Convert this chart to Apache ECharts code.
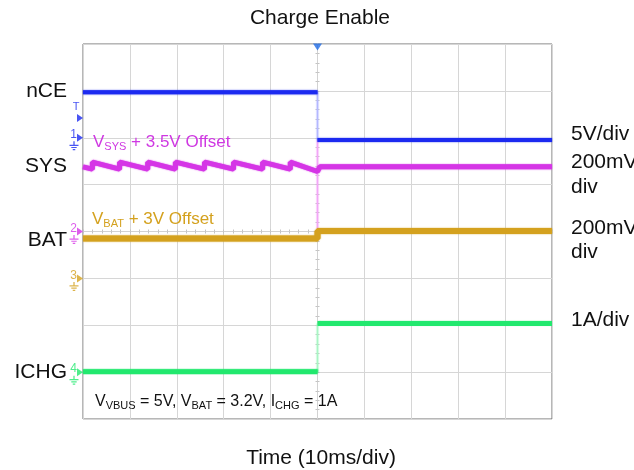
<!DOCTYPE html>
<html><head><meta charset="utf-8">
<script src="https://cdn.jsdelivr.net/npm/echarts@6/dist/echarts.min.js"></script>
<style>html,body{margin:0;padding:0;background:#fff}#c{width:634px;height:470px}</style>
</head><body><div id="c"></div>
<script>
// ---- data (time in ms relative to trigger, amplitude in screen divisions from centre) ----
const timeRange = [-50, 50];
const divRange = [-4, 4];
const edgeTime = 0;
const nceLevels = [2.97, 1.95];      // before / after enable
const batLevels = [-0.15, 0.01];
const ichgLevels = [-2.99, -1.96];
const sysTime  = [-50, -48.0, -48.0, -42.2, -42.2, -36.2, -36.2, -30.3, -30.3, -24.1, -24.1, -17.9, -17.9, -11.7, -11.7, -5.8, -5.8, 0, 0.5, 50];
const sysValue = [1.38, 1.33, 1.48, 1.33, 1.48, 1.33, 1.48, 1.33, 1.48, 1.33, 1.48, 1.33, 1.48, 1.33, 1.48, 1.33, 1.48, 1.28, 1.38, 1.38];
const sysGlitch = [1.95, 0.0];
const channelNames = ['1', '2', '3', '4'];
const channelGround = [2.0, 0.0, -1.0, -3.0];
const triggerLevel = 2.42;
const leftLabels = ['nCE', 'SYS', 'BAT', 'ICHG'];
const rightLabels = ['5V/div', '200mV/', 'div', '200mV/', 'div', '1A/div'];

const FONT = '"Liberation Sans", Arial, sans-serif';
const C = { nce: '#1c2af0', sys: '#d535e6', bat: '#d4a11e', ichg: '#22e86e', trig: '#1f6be6' };
const chColors = [C.nce, C.sys, C.bat, C.ichg];

const chart = echarts.init(document.getElementById('c'), null, { renderer: 'canvas' });

function seg(a, b, v) { return [[a, v], [b, v]]; }
function trace(name, data, color, width, z) {
  return { name, type: 'line', data, symbol: 'none', animation: false, z: z || 3,
    lineStyle: { color, width, cap: 'butt', join: 'bevel', shadowColor: color, shadowBlur: 1.5 } };
}
const sysData = sysTime.map((t, i) => [t, sysValue[i]]);
const groundPath = 'path://M4.3,0h1.4v4h-1.4z M0,4h10v1.4h-10z M2,6.5h6v1.4h-6z M3.6,9h2.8v1.4h-2.8z';

const axisCommon = {
  type: 'value', axisLabel: { show: false },
  axisLine: { onZero: true, lineStyle: { color: '#d2d2d2', width: 1 } },
  axisTick: { show: true, length: 2, lineStyle: { color: '#c4c4c4' } },
  minorTick: { show: true, splitNumber: 5, length: 2, lineStyle: { color: '#c4c4c4' } }
};

const option = {
  backgroundColor: '#fff',
  animation: false,
  grid: { left: 83, top: 44, width: 469, height: 375, show: true, borderColor: '#6e6e6e', borderWidth: 1, containLabel: false },
  xAxis: [
    Object.assign({}, axisCommon, { min: timeRange[0], max: timeRange[1], interval: 10,
      axisTick: Object.assign({}, axisCommon.axisTick, { inside: true }),
      splitLine: { show: true, lineStyle: { color: '#d6d6d6', width: 1 } } }),
    Object.assign({}, axisCommon, { min: timeRange[0], max: timeRange[1], interval: 10, position: 'bottom',
      axisTick: Object.assign({}, axisCommon.axisTick, { inside: false }),
      splitLine: { show: false } })
  ],
  yAxis: [
    Object.assign({}, axisCommon, { min: divRange[0], max: divRange[1], interval: 1,
      axisTick: Object.assign({}, axisCommon.axisTick, { inside: true }),
      splitLine: { show: true, lineStyle: { color: '#d6d6d6', width: 1 } } }),
    Object.assign({}, axisCommon, { min: divRange[0], max: divRange[1], interval: 1, position: 'left',
      axisTick: Object.assign({}, axisCommon.axisTick, { inside: false }),
      splitLine: { show: false } })
  ],
  series: [
    // faint fast transitions
    trace('nceEdge', [[edgeTime, nceLevels[0]], [edgeTime, nceLevels[1]]], '#b4b8ff', 1.5, 2),
    trace('sysEdge', [[edgeTime, sysGlitch[0]], [edgeTime, sysGlitch[1]]], '#f2a6f7', 1.5, 2),
    trace('ichgEdge', [[edgeTime, ichgLevels[0]], [edgeTime, ichgLevels[1]]], '#a9f5c4', 1.5, 2),
    // main traces
    trace('nCE-before', seg(timeRange[0], edgeTime, nceLevels[0]), C.nce, 4),
    trace('nCE-after', seg(edgeTime, timeRange[1], nceLevels[1]), C.nce, 4),
    trace('SYS', sysData, C.sys, 5),
    trace('BAT', [[timeRange[0], batLevels[0]], [edgeTime, batLevels[0]], [edgeTime, batLevels[1]], [timeRange[1], batLevels[1]]], C.bat, 6),
    trace('ICHG-before', seg(timeRange[0], edgeTime, ichgLevels[0]), C.ichg, 5),
    trace('ICHG-after', seg(edgeTime, timeRange[1], ichgLevels[1]), C.ichg, 5),
    // channel ground markers on left edge
    { type: 'scatter', name: 'chArrow', silent: true, z: 6, clip: false,
      data: channelGround.map((v, i) => ({ value: [timeRange[0], v], itemStyle: { color: chColors[i] },
        label: { show: true, formatter: channelNames[i], color: chColors[i] } })),
      symbol: 'triangle', symbolRotate: -90, symbolSize: [8, 6], symbolOffset: [-3, 0],
      label: { position: 'left', distance: 0, offset: [0, -3], fontSize: 12, fontFamily: FONT } },
    { type: 'scatter', name: 'chGround', silent: true, z: 6, clip: false,
      data: channelGround.map((v, i) => ({ value: [timeRange[0], v], itemStyle: { color: chColors[i] } })),
      symbol: groundPath, symbolSize: [9, 9], symbolOffset: [-9, 8] },
    { type: 'scatter', name: 'trigLevel', silent: true, z: 6, clip: false,
      data: [{ value: [timeRange[0], triggerLevel], label: { show: true, formatter: 'T', color: C.nce } }],
      itemStyle: { color: C.nce }, symbol: 'triangle', symbolRotate: -90, symbolSize: [8, 6], symbolOffset: [-3, 0],
      label: { position: 'top', distance: 2, offset: [-4, 0], fontSize: 11, fontFamily: FONT } },
    { type: 'scatter', name: 'trigTime', silent: true, z: 6, clip: false,
      data: [[edgeTime, divRange[1]]], itemStyle: { color: C.trig },
      symbol: 'triangle', symbolRotate: 180, symbolSize: [9, 7], symbolOffset: [0, 3] }
  ],
  graphic: []
};

const g = option.graphic;
function txt(x, y, text, size, align, color) {
  g.push({ type: 'text', x, y, silent: true, z: 10,
    style: { text, fill: color || '#111', font: size + 'px ' + FONT, align: align, textAlign: align,
      verticalAlign: 'middle', textVerticalAlign: 'middle' } });
}
function rich(x, y, parts, main, sub, color) {
  const text = parts.map(p => (p[1] ? '{s|' : '{m|') + p[0] + '}').join('');
  g.push({ type: 'text', x, y, silent: true, z: 10,
    style: { text, align: 'left', textAlign: 'left', verticalAlign: 'middle', textVerticalAlign: 'middle',
      rich: {
        m: { fontSize: main, fontFamily: FONT, fill: color, color: color, lineHeight: main + 3 },
        s: { fontSize: sub, fontFamily: FONT, fill: color, color: color, lineHeight: 9, verticalAlign: 'bottom' }
      } } });
}
txt(320, 18, 'Charge Enable', 21, 'center');
txt(321, 458, 'Time (10ms/div)', 21, 'center');
const leftY = [91, 166, 240, 372];
leftLabels.forEach((t, i) => txt(67, leftY[i], t, 21, 'right'));
const rightY = [134, 162, 187, 228, 252, 320];
rightLabels.forEach((t, i) => txt(571, rightY[i], t, 21, 'left'));
rich(93, 142, [['V'], ['SYS', 1], [' + 3.5V Offset']], 17, 11, '#cf38e2');
rich(92, 219, [['V'], ['BAT', 1], [' + 3V Offset']], 17, 11, '#d4a11e');
rich(95, 402, [['V'], ['VBUS', 1], [' = 5V, V'], ['BAT', 1], [' = 3.2V, I'], ['CHG', 1], [' = 1A']], 16, 11, '#111');

chart.setOption(option);
</script>
</body></html>
